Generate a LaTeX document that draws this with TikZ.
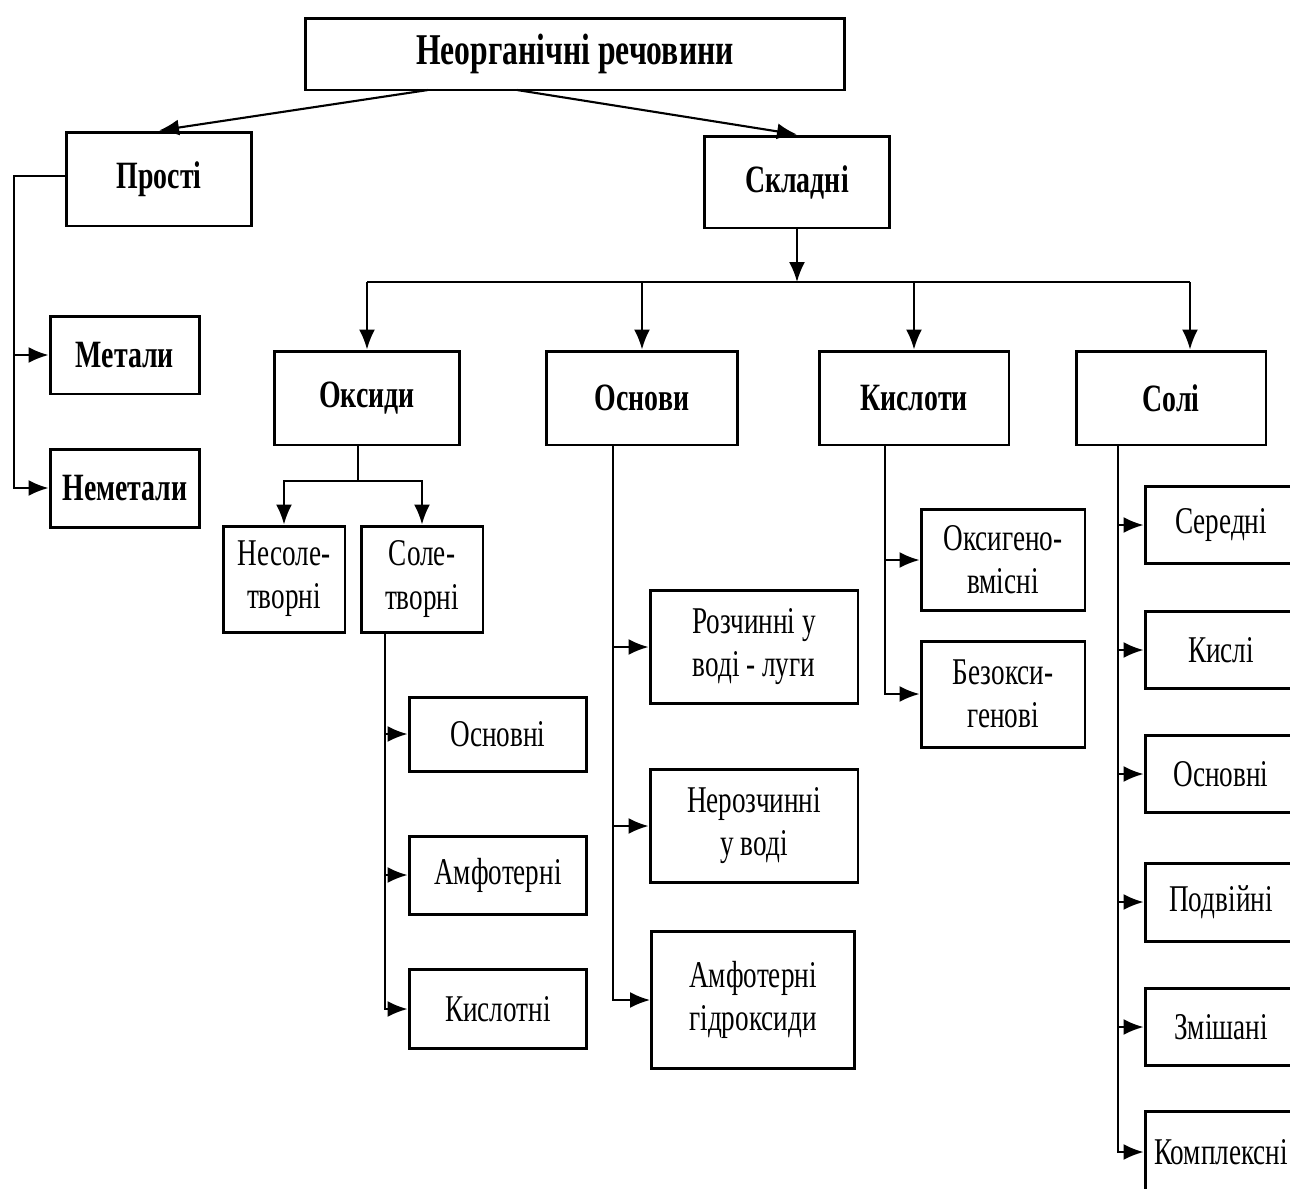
\documentclass[tikz,border=0pt]{standalone}
\usepackage{fontspec}
\setmainfont[FakeStretch=0.72]{Liberation Serif}
\usepackage{tikz}
\usetikzlibrary{arrows.meta,positioning}
\tikzset{%
	box/.style      = {draw, rectangle, line width=1.7pt, inner sep=0pt, align=center, font=\fontsize{21.5}{24.5}\selectfont},
	headbox/.style  = {box, font=\fontsize{22}{25}\selectfont\bfseries},
	line/.style     = {line width=1.2pt},
	arrow/.style    = {line width=1.2pt,-{Latex[length=0.4cm,width=0.32cm]}},
}
\begin{document}
\begin{tikzpicture}[x=0.02cm,y=-0.02cm]
	\useasboundingbox (0,0) rectangle (1290,1188);
	\clip (0,0) rectangle (1290,1188);
	% upper levels
	\node[headbox, minimum width=10.8cm, minimum height=1.44cm, font=\fontsize{25}{28}\selectfont\bfseries] (rech) at (575,54) {Неорганічні речовини};
	\node[headbox, minimum width=3.72cm, minimum height=1.88cm] (prosti) at (159,179) {Прості};
	\node[headbox, minimum width=3.7cm, minimum height=1.84cm] (skladni) at (797,182) {Складні};
	\coordinate (rl) at (428,90);
	\coordinate (rr) at (517,90);
	\draw[arrow] (rl) -- (prosti.north);
	\draw[arrow] (rr) -- (skladni.north);
	% simple substances
	\node[headbox, minimum width=3cm, minimum height=1.56cm] (metaly) at (125,355) {Метали};
	\node[headbox, minimum width=3cm, minimum height=1.56cm] (nemetaly) at (125,488) {Неметали};
	\coordinate (ptrunk) at (14,176);
	\draw[arrow] (prosti.west |- ptrunk) -- (ptrunk) |- (nemetaly.west);
	\draw[arrow] (metaly.west -| ptrunk) -- (metaly.west);
	% classes of compounds
	\node[headbox, minimum width=3.72cm, minimum height=1.88cm] (oksydy) at (367,398) {Оксиди};
	\node[headbox, minimum width=3.82cm, minimum height=1.88cm] (osnovy) at (642,398) {Основи};
	\node[headbox, minimum width=3.8cm, minimum height=1.88cm] (kysloty) at (914,398) {Кислоти};
	\node[headbox, minimum width=3.8cm, minimum height=1.88cm] (soli) at (1171,398) {Солі};
	\coordinate (hbar) at (798,282);
	\coordinate (sdrop) at (1190,282);
	\draw[arrow] (skladni.south) -- (skladni.south |- hbar);
	\draw[line] (oksydy.north |- hbar) -- (sdrop);
	\foreach \n in {oksydy,osnovy,kysloty}
		\draw[arrow] (\n.north |- hbar) -- (\n.north);
	\draw[arrow] (sdrop) -- (sdrop |- soli.north);
	% oxides
	\node[box, minimum width=2.44cm, minimum height=2.12cm] (nesol) at (284,579) {Несоле-\\творні};
	\node[box, minimum width=2.44cm, minimum height=2.12cm] (sol) at (422,579) {Соле-\\творні};
	\coordinate (osplit) at (358,481);
	\draw[line] (oksydy.south -| osplit) -- (osplit);
	\draw[arrow] (osplit) -| (nesol.north);
	\draw[arrow] (osplit) -| (sol.north);
	\node[box, minimum width=3.56cm, minimum height=1.48cm] (oksosn) at (498,734) {Основні};
	\node[box, minimum width=3.56cm, minimum height=1.56cm] (oksamf) at (498,875) {Амфотерні};
	\node[box, minimum width=3.56cm, minimum height=1.58cm] (okskysl) at (498,1009) {Кислотні};
	\coordinate (otrunk) at (385,632);
	\draw[arrow] (sol.south -| otrunk) |- (okskysl.west);
	\foreach \n in {oksosn,oksamf}
		\draw[arrow] (\n.west -| otrunk) -- (\n.west);
	% bases
	\node[box, minimum width=4.16cm, minimum height=2.26cm] (rozch) at (754,647) {Розчинні у\\воді - луги};
	\node[box, minimum width=4.16cm, minimum height=2.26cm] (nerozch) at (754,826) {Нерозчинні\\у воді};
	\node[box, minimum width=4.06cm, minimum height=2.74cm] (amfhydr) at (753,1000) {Амфотерні\\гідроксиди};
	\coordinate (btrunk) at (613,445);
	\draw[arrow] (btrunk) |- (amfhydr.west);
	\foreach \n in {rozch,nerozch}
		\draw[arrow] (\n.west -| btrunk) -- (\n.west);
	% acids
	\node[box, minimum width=3.28cm, minimum height=2.02cm] (oksyg) at (1003,560) {Оксигено-\\вмісні};
	\node[box, minimum width=3.28cm, minimum height=2.12cm] (bezoks) at (1003,694) {Безокси-\\генові};
	\coordinate (ktrunk) at (885,445);
	\draw[arrow] (ktrunk) |- (bezoks.west);
	\draw[arrow] (oksyg.west -| ktrunk) -- (oksyg.west);
	% salts
	\node[box, minimum width=3.04cm, minimum height=1.54cm] (seredni) at (1221,525) {Середні};
	\node[box, minimum width=3.04cm, minimum height=1.54cm] (kysli) at (1221,650) {Кислі};
	\node[box, minimum width=3.04cm, minimum height=1.54cm] (osnovni) at (1221,774) {Основні};
	\node[box, minimum width=3.04cm, minimum height=1.56cm] (podviini) at (1221,902) {Подвійні};
	\node[box, minimum width=3.04cm, minimum height=1.54cm] (zmishani) at (1221,1027) {Змішані};
	\node[box, minimum width=3.04cm, minimum height=1.62cm] (kompl) at (1221,1152) {Комплексні};
	\coordinate (strunk) at (1118,445);
	\draw[arrow] (strunk) |- (kompl.west);
	\foreach \n in {seredni,kysli,osnovni,podviini,zmishani}
		\draw[arrow] (\n.west -| strunk) -- (\n.west);
\end{tikzpicture}
\end{document}
